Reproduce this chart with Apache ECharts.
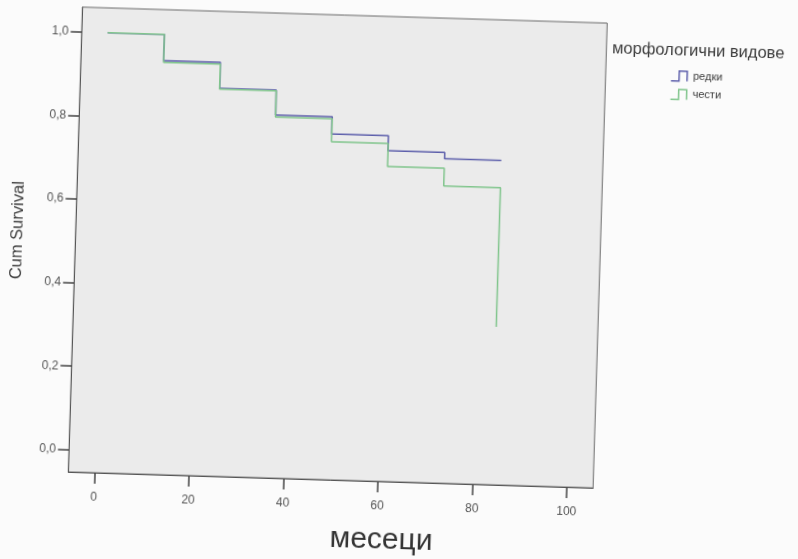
<!DOCTYPE html>
<html>
<head>
<meta charset="utf-8">
<script src="https://cdn.jsdelivr.net/npm/echarts@6/dist/echarts.min.js"></script>
<style>
  html, body { margin: 0; padding: 0; background: #fbfbfb; }
  #main {
    width: 798px; height: 559px;
    /* the scanned page is slightly tilted */
    transform-origin: 337.75px 247.5px;
    transform: rotate(1.745deg);
  }
</style>
</head>
<body>
<div id="main"></div>
<script>
// months at which the steps happen
var months = [0, 12, 24, 36, 48, 60, 72, 84];
// cumulative survival, rare morphological types
var redki = [1.0, 0.937, 0.875, 0.815, 0.774, 0.738, 0.723, 0.723];
// cumulative survival, frequent morphological types
var chesti = [1.0, 0.933, 0.873, 0.810, 0.755, 0.700, 0.658, 0.325];

var xTicks = [0, 20, 40, 60, 80, 100];
var yTicks = [0, 0.2, 0.4, 0.6, 0.8, 1.0];

var blue = '#5d5fab';
var green = '#80c58c';

function pairs(ys) {
  return months.map(function (m, i) { return [m, ys[i]]; });
}

var chart = echarts.init(document.getElementById('main'), null, { renderer: 'canvas' });

var stepIcon = 'path://M0,10 L8,10 L8,0 L16,0 L16,10';
var textColor = '#3c3c3c';
var font = 'Liberation Sans, Arial, sans-serif';

var option = {
  animation: false,
  backgroundColor: 'transparent',
  textStyle: { fontFamily: font },
  grid: {
    left: 75.25,
    top: 15,
    width: 525,
    height: 465,
    show: true,
    backgroundColor: '#ebebeb',
    borderColor: '#6a6a6a',
    borderWidth: 1
  },
  legend: {
    orient: 'vertical',
    left: 660,
    top: 55,
    itemWidth: 18,
    itemHeight: 10,
    itemGap: 7,
    selectedMode: false,
    textStyle: { fontSize: 11, color: textColor, fontFamily: font },
    data: [
      { name: 'редки', icon: stepIcon, itemStyle: { color: 'rgba(0,0,0,0)', borderColor: blue, borderWidth: 1.5 } },
      { name: 'чести', icon: stepIcon, itemStyle: { color: 'rgba(0,0,0,0)', borderColor: green, borderWidth: 1.5 } }
    ]
  },
  xAxis: {
    type: 'value',
    min: -5.5,
    max: 105.5,
    splitLine: { show: false },
    axisLine: { show: true, onZero: false, lineStyle: { color: '#555' } },
    axisTick: { show: true, length: 11, customValues: xTicks, lineStyle: { color: '#444', width: 1.5 } },
    axisLabel: { customValues: xTicks, margin: 19, fontSize: 12, color: '#555', fontFamily: font }
  },
  yAxis: {
    type: 'value',
    min: -0.053,
    max: 1.059,
    splitLine: { show: false },
    axisLine: { show: true, onZero: false, lineStyle: { color: '#555' } },
    axisTick: { show: true, length: 11, customValues: yTicks, lineStyle: { color: '#444', width: 1.5 } },
    axisLabel: {
      customValues: yTicks,
      margin: 13,
      fontSize: 12,
      color: '#555',
      fontFamily: font,
      formatter: function (v) { return v.toFixed(1).replace('.', ','); }
    }
  },
  graphic: [
    {
      type: 'text',
      x: 17.6,
      y: 240,
      rotation: Math.PI / 2,
      style: {
        text: 'Cum Survival',
        align: 'center',
        verticalAlign: 'middle',
        font: '16.5px Liberation Sans, Arial, sans-serif',
        fill: textColor
      }
    },
    {
      type: 'text',
      x: 390,
      y: 538.6,
      style: {
        text: 'месеци',
        align: 'center',
        verticalAlign: 'middle',
        font: '30px Liberation Sans, Arial, sans-serif',
        fill: '#333'
      }
    },
    {
      type: 'text',
      x: 606,
      y: 40,
      style: {
        text: 'морфологични видове',
        align: 'left',
        verticalAlign: 'middle',
        font: '16.5px Liberation Sans, Arial, sans-serif',
        fill: textColor
      }
    }
  ],
  series: [
    {
      name: 'редки',
      type: 'line',
      step: 'end',
      showSymbol: false,
      data: pairs(redki),
      lineStyle: { color: blue, width: 1.5 },
      itemStyle: { color: blue }
    },
    {
      name: 'чести',
      type: 'line',
      step: 'end',
      showSymbol: false,
      data: pairs(chesti),
      lineStyle: { color: green, width: 1.5 },
      itemStyle: { color: green }
    }
  ]
};

chart.setOption(option);
</script>
</body>
</html>
